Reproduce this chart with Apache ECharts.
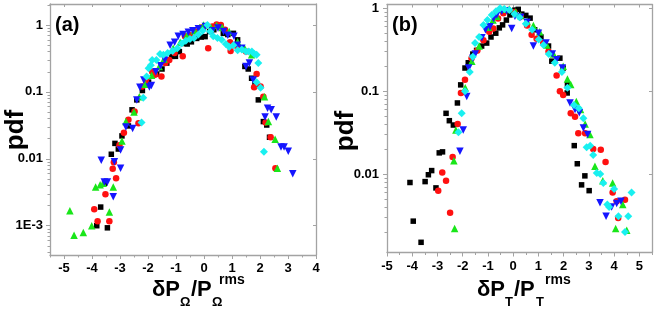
<!DOCTYPE html>
<html><head><meta charset="utf-8">
<script src="https://cdn.jsdelivr.net/npm/echarts@6/dist/echarts.min.js"></script>
<style>html,body{margin:0;padding:0;background:#fff}#c{width:654px;height:310px}</style>
</head><body><div id="c"></div>
<script>
// ---------- data (x, pdf) ----------
const aBlack=[[-3.83,0.0010],[-3.69,0.0019],[-3.55,0.0043],[-3.45,0.00093],[-3.31,0.0117],[-3.18,0.017],[-3.06,0.014],[-2.93,0.022],[-2.70,0.031],[-2.57,0.054],[-2.40,0.076],[-2.20,0.105],[-1.98,0.14],[-1.69,0.185],[-1.50,0.22],[-1.33,0.27],[-1.15,0.34],[-1.02,0.34],[-0.88,0.40],[-0.76,0.53],[-0.60,0.52],[-0.45,0.56],[-0.26,0.63],[-0.10,0.66],[0.04,0.67],[0.20,0.80],[0.35,0.85],[0.55,0.95],[0.69,0.75],[0.85,0.72],[1.05,0.75],[1.20,0.60],[1.35,0.45],[1.46,0.24],[1.58,0.22],[1.70,0.16],[1.82,0.13],[1.94,0.076],[2.12,0.036],[2.24,0.032],[2.34,0.021]];
const aRed=[[-3.92,0.00176],[-3.80,0.00117],[-3.52,0.00296],[-3.38,0.00117],[-3.26,0.0071],[-3.22,0.0089],[-3.14,0.0051],[-3.02,0.016],[-2.86,0.0245],[-2.70,0.0385],[-2.48,0.051],[-2.34,0.034],[-2.21,0.12],[-2.07,0.145],[-1.85,0.20],[-1.75,0.18],[-1.52,0.17],[-1.38,0.27],[-1.24,0.30],[-1.05,0.38],[-0.76,0.34],[-0.68,0.68],[-0.50,0.70],[-0.30,0.80],[-0.10,0.92],[0.15,0.45],[0.30,0.95],[0.45,1.02],[0.60,1.0],[0.75,0.85],[0.93,0.55],[0.95,0.41],[1.10,0.50],[1.21,0.47],[1.50,0.40],[1.79,0.117],[1.88,0.185],[2.02,0.12],[2.12,0.085],[2.20,0.035],[2.38,0.021],[2.55,0.0072]];
const aGreen=[[-4.79,0.00168],[-4.64,0.00072],[-4.31,0.00079],[-4.01,0.0010],[-3.87,0.0038],[-3.71,0.0041],[-3.60,0.0043],[-3.38,0.0016],[-3.24,0.0038],[-2.93,0.0185],[-2.79,0.036],[-2.50,0.05],[-2.31,0.085],[-2.10,0.13],[-1.87,0.178],[-1.60,0.24],[-1.43,0.31],[-1.10,0.45],[-0.85,0.55],[-0.60,0.70],[-0.35,0.82],[-0.15,0.92],[-0.02,1.0],[0.25,0.92],[0.45,0.98],[0.65,0.92],[0.90,0.80],[1.20,0.56],[1.46,0.44],[1.70,0.36],[2.16,0.085],[2.30,0.036],[2.54,0.0196],[2.62,0.0072]];
const aBlue=[[-3.67,0.0095],[-3.56,0.0045],[-3.45,0.0045],[-3.24,0.0027],[-3.20,0.0090],[-2.98,0.0135],[-2.98,0.0072],[-2.79,0.030],[-2.55,0.0285],[-2.40,0.076],[-2.29,0.117],[-2.15,0.15],[-1.95,0.118],[-1.88,0.125],[-1.72,0.20],[-1.55,0.245],[-1.40,0.30],[-1.21,0.50],[-1.05,0.55],[-0.92,0.68],[-0.75,0.72],[-0.56,0.78],[-0.40,0.82],[-0.20,0.88],[0.05,0.95],[0.30,0.82],[0.50,0.90],[0.70,0.80],[0.85,0.70],[1.07,0.68],[1.19,0.50],[1.35,0.45],[1.50,0.24],[1.62,0.27],[1.76,0.15],[2.18,0.042],[2.27,0.057],[2.40,0.054],[2.58,0.042],[2.75,0.015],[2.86,0.015],[3.01,0.013],[3.17,0.0060]];
const aCyan=[[-2.23,0.035],[-2.17,0.082],[-2.05,0.17],[-1.98,0.225],[-1.90,0.25],[-1.85,0.30],[-1.70,0.30],[-1.57,0.37],[-1.45,0.36],[-1.30,0.38],[-1.12,0.41],[-0.95,0.45],[-0.80,0.53],[-0.65,0.58],[-0.50,0.62],[-0.36,0.64],[-0.20,0.72],[-0.05,0.82],[0.12,1.0],[0.22,0.80],[0.33,0.68],[0.48,0.64],[0.63,0.60],[0.78,0.52],[0.90,0.47],[1.05,0.50],[1.20,0.42],[1.35,0.43],[1.50,0.40],[1.60,0.40],[1.71,0.40],[1.80,0.37],[1.88,0.36],[1.94,0.27],[1.88,0.14],[2.02,0.115],[2.14,0.0128]];

const bBlack=[[-4.09,0.0079],[-3.96,0.0027],[-3.65,0.0015],[-3.49,0.0081],[-3.36,0.0098],[-3.23,0.011],[-3.06,0.0068],[-2.93,0.018],[-2.80,0.0185],[-2.66,0.054],[-2.53,0.044],[-2.37,0.039],[-2.21,0.072],[-2.08,0.119],[-1.91,0.19],[-1.78,0.22],[-1.60,0.28],[-1.45,0.31],[-1.25,0.35],[-1.05,0.38],[-0.88,0.45],[-0.69,0.50],[-0.55,0.58],[-0.42,0.63],[-0.27,0.72],[-0.13,0.83],[0.07,0.95],[0.20,0.97],[0.34,0.85],[0.50,0.82],[0.67,0.76],[0.85,0.55],[1.10,0.45],[1.40,0.35],[1.53,0.23],[1.85,0.25],[1.98,0.19],[2.15,0.12],[2.14,0.095],[2.42,0.022],[2.54,0.0133],[2.71,0.0074],[2.84,0.0095],[3.01,0.0063]];
const bRed=[[-2.97,0.0063],[-2.81,0.0104],[-2.66,0.0083],[-2.50,0.0034],[-2.40,0.016],[-2.20,0.040],[-2.07,0.095],[-1.91,0.137],[-1.65,0.25],[-1.42,0.31],[-1.18,0.41],[-0.95,0.52],[-0.79,0.57],[-0.60,0.75],[-0.39,0.87],[-0.20,0.95],[0.05,0.90],[0.30,0.80],[0.55,0.62],[0.73,0.48],[0.93,0.43],[1.19,0.38],[1.40,0.30],[1.72,0.154],[1.85,0.10],[1.98,0.09],[2.28,0.054],[2.45,0.049],[2.58,0.031],[2.85,0.031],[3.17,0.020],[3.47,0.0196],[3.66,0.014],[3.94,0.0060],[4.10,0.0047],[4.16,0.00295],[4.43,0.0049]];
const bGreen=[[-2.35,0.0145],[-2.32,0.0022],[-2.27,0.034],[-1.90,0.11],[-1.64,0.23],[-1.35,0.35],[-0.98,0.59],[-0.80,0.72],[-0.65,0.80],[-0.39,0.97],[-0.15,0.98],[0.10,0.90],[0.30,0.82],[0.55,0.70],[0.80,0.62],[1.05,0.52],[1.33,0.36],[1.60,0.28],[1.98,0.20],[2.15,0.14],[2.28,0.12],[2.50,0.075],[2.67,0.060],[2.85,0.040],[3.04,0.030],[3.24,0.0124],[3.55,0.0083],[3.94,0.0078],[4.06,0.0022],[4.34,0.0043],[4.50,0.0021]];
const bBlue=[[-2.11,0.0188],[-1.98,0.034],[-1.84,0.086],[-1.76,0.19],[-1.60,0.25],[-1.50,0.28],[-1.24,0.44],[-1.10,0.55],[-0.92,0.60],[-0.78,0.75],[-0.65,0.83],[-0.45,0.92],[-0.26,0.93],[-0.06,0.57],[0.07,0.80],[0.30,0.78],[0.55,0.68],[0.80,0.35],[1.00,0.50],[1.30,0.38],[1.55,0.28],[1.72,0.24],[1.95,0.19],[2.25,0.072],[2.45,0.060],[2.62,0.055],[2.78,0.036],[2.95,0.030],[3.44,0.0045],[3.68,0.0031],[3.90,0.0040],[4.10,0.0044],[4.27,0.0047]];
const bCyan=[[-2.17,0.032],[-2.04,0.054],[-1.91,0.10],[-1.72,0.17],[-1.60,0.26],[-1.51,0.38],[-1.35,0.45],[-1.18,0.63],[-1.02,0.72],[-0.85,0.83],[-0.68,0.92],[-0.52,1.0],[-0.35,0.98],[-0.15,0.95],[0.05,0.85],[0.25,0.78],[0.50,0.65],[0.75,0.55],[1.01,0.42],[1.20,0.36],[1.41,0.28],[1.65,0.22],[1.93,0.17],[2.15,0.11],[2.41,0.068],[2.60,0.062],[2.78,0.047],[2.91,0.021],[3.05,0.022],[3.17,0.017],[3.31,0.0103],[3.45,0.010],[3.57,0.0078],[3.73,0.0043],[3.80,0.0040],[4.00,0.0066],[4.17,0.0031],[4.43,0.0020],[4.56,0.0031],[4.69,0.0060]];

// ---------- tick labels ----------
const aXTicks=[-5,-4,-3,-2,-1,0,1,2,3,4];
const bXTicks=[-5,-4,-3,-2,-1,0,1,2,3,4,5];
const aYTicks=[0.001,0.01,0.1,1];
const bYTicks=[0.01,0.1,1];
const yTickText={'-3':'1E-3','-2':'0.01','-1':'0.1','0':'1'};

// ---------- helpers ----------
const FONT="'Liberation Sans', Arial, sans-serif";
const GRAY='#a3a3a3';
function halfTicks(lo,hi){const r=[];for(let v=lo;v<=hi+1e-9;v+=1)r.push(v+0.5);return r;}
function logMinor(lo,hi){const r=[];for(let e=lo;e<=hi;e++){for(let m=2;m<=9;m++)r.push(m*Math.pow(10,e));}return r;}
const fmtY=v=>yTickText[String(Math.round(Math.log10(v)))]||'';

function axesFor(gi,xmin,xmax,xt,ymin,ymax,yt,ylabMargin){
  const xs=[
    {type:'value',gridIndex:gi,position:'bottom',min:xmin,max:xmax,
     axisLine:{show:true,onZero:false,lineStyle:{color:GRAY,width:1.3}},
     axisTick:{show:true,customValues:xt,length:4,lineStyle:{color:GRAY,width:1}},
     axisLabel:{show:true,customValues:xt,margin:7,color:'#000',fontFamily:FONT,fontWeight:'bold',fontSize:13},
     splitLine:{show:false}},
    {type:'value',gridIndex:gi,position:'bottom',min:xmin,max:xmax,
     axisLine:{show:false,onZero:false},axisLabel:{show:false},splitLine:{show:false},
     axisTick:{show:true,customValues:halfTicks(xt[0]-1,xt[xt.length-1]),length:2.5,lineStyle:{color:GRAY,width:1}}},
    {type:'value',gridIndex:gi,position:'top',min:xmin,max:xmax,
     axisLine:{show:true,onZero:false,lineStyle:{color:GRAY,width:1.3}},axisLabel:{show:false},splitLine:{show:false},
     axisTick:{show:true,inside:true,customValues:xt,length:3,lineStyle:{color:GRAY,width:1}}}
  ];
  const ys=[
    {type:'log',logBase:10,gridIndex:gi,position:'left',min:ymin,max:ymax,
     axisLine:{show:true,onZero:false,lineStyle:{color:GRAY,width:1.3}},
     axisTick:{show:true,customValues:yt,length:4,lineStyle:{color:GRAY,width:1}},
     axisLabel:{show:true,customValues:yt,margin:ylabMargin,color:'#000',fontFamily:FONT,fontWeight:'bold',fontSize:13,formatter:fmtY},
     splitLine:{show:false}},
    {type:'log',logBase:10,gridIndex:gi,position:'left',min:ymin,max:ymax,
     axisLine:{show:false,onZero:false},axisLabel:{show:false},splitLine:{show:false},
     axisTick:{show:true,customValues:logMinor(-4,0),length:2.5,lineStyle:{color:GRAY,width:1}}},
    {type:'log',logBase:10,gridIndex:gi,position:'right',min:ymin,max:ymax,
     axisLine:{show:true,onZero:false,lineStyle:{color:GRAY,width:1.3}},axisLabel:{show:false},splitLine:{show:false},
     axisTick:{show:true,inside:true,customValues:yt,length:3,lineStyle:{color:GRAY,width:1}}}
  ];
  return {xs,ys};
}
const A=axesFor(0,-5.5,4,aXTicks,3.65e-4,2.06,aYTicks,7);
const B=axesFor(1,-5,5.5,bXTicks,1.13e-3,1.11,bYTicks,8);

const styles=[
  {color:'#000000',symbol:'rect',size:5.5,rot:0},
  {color:'#ff1010',symbol:'circle',size:6.5,rot:0},
  {color:'#19e619',symbol:'triangle',size:7.5,rot:0},
  {color:'#1515ff',symbol:'triangle',size:7.5,rot:180},
  {color:'#19f0f0',symbol:'diamond',size:8,rot:0}
];
function mk(data,st,xi,yi){
  return {type:'scatter',data:data,xAxisIndex:xi,yAxisIndex:yi,symbol:st.symbol,symbolSize:st.size,symbolRotate:st.rot,
    itemStyle:{color:st.color,opacity:1},silent:true,animation:false};
}
const series=[];
[aBlack,aRed,aGreen,aBlue,aCyan].forEach((d,i)=>series.push(mk(d,styles[i],0,0)));
[bBlack,bRed,bGreen,bBlue,bCyan].forEach((d,i)=>series.push(mk(d,styles[i],3,3)));

function txt(x,y,s,size){
  return {type:'text',x:x,y:y,silent:true,style:{text:s,fill:'#000',font:'bold '+size+'px '+FONT,textVerticalAlign:'middle',textAlign:'left'}};
}
const graphics=[
  txt(55,25,'(a)',20),
  txt(392,25,'(b)',20),
  {type:'text',x:16,y:130,rotation:Math.PI/2,silent:true,style:{text:'pdf',fill:'#000',font:'bold 26px '+FONT,textAlign:'center',textVerticalAlign:'middle'}},
  {type:'text',x:346,y:131,rotation:Math.PI/2,silent:true,style:{text:'pdf',fill:'#000',font:'bold 26px '+FONT,textAlign:'center',textVerticalAlign:'middle'}},
  // (a) x title
  txt(152,290,'δP',22),
  txt(180,302,'Ω',13),
  txt(191,290,'/P',22),
  txt(212,302,'Ω',13),
  txt(219,280,'rms',14),
  // (b) x title
  txt(477,290,'δP',22),
  txt(505,302,'T',13),
  txt(514,290,'/P',22),
  txt(536,302,'T',13),
  txt(545,280,'rms',14)
];

const chart=echarts.init(document.getElementById('c'),null,{renderer:'canvas'});
chart.setOption({
  animation:false,
  backgroundColor:'#fff',
  grid:[{left:50,top:4,width:266,height:251},{left:387,top:4.5,width:265,height:248}],
  xAxis:A.xs.concat(B.xs),
  yAxis:A.ys.concat(B.ys),
  series:series,
  graphic:graphics
});
</script></body></html>
